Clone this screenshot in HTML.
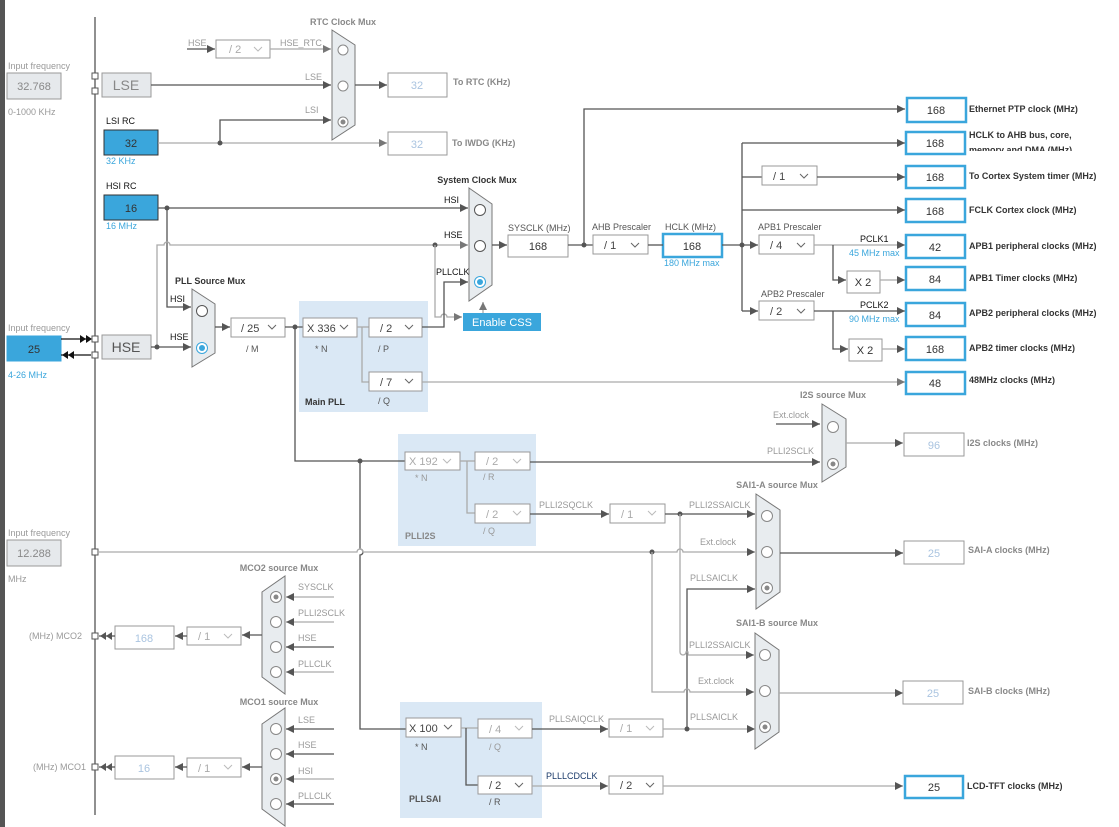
<!DOCTYPE html>
<html><head><meta charset="utf-8"><style>
html,body{margin:0;padding:0;background:#fff;width:1119px;height:827px;overflow:hidden}
svg{display:block;font-family:"Liberation Sans",Arial,sans-serif}
.d{stroke:#555;stroke-width:1.3;fill:none}
.g{stroke:#aaa;stroke-width:1.3;fill:none}
.bx{fill:#fff;stroke:#999;stroke-width:1}
.ob{fill:#fff;stroke:#3aa6dc;stroke-width:2.5}
.gb{fill:#e6e9ec;stroke:#999;stroke-width:1}
.bb{fill:#3aa6dc;stroke:#333;stroke-width:1}
.mux{fill:#e8ecef;stroke:#777;stroke-width:1}
.ch{fill:none;stroke:#666;stroke-width:1}
.chg{fill:none;stroke:#bbb;stroke-width:1}
.t{font-size:9px;fill:#555}
.tg{font-size:9px;fill:#999}
.tb{font-size:9px;fill:#333;font-weight:bold}
.tgb{font-size:9px;fill:#888;font-weight:bold}
.tk{font-size:9px;fill:#111}
.tblue{font-size:9px;fill:#3aa6dc}
.v{font-size:11px;fill:#333;text-anchor:middle}
.vg{font-size:11px;fill:#aac4e0;text-anchor:middle}
.dd{font-size:11px;fill:#444}
.ddg{font-size:11px;fill:#aaa}
.c{fill:#fff;stroke:#555;stroke-width:1}
.cg{fill:#fff;stroke:#888;stroke-width:1}
</style></head><body>
<svg width="1119" height="827" viewBox="0 0 1119 827">
<defs>
<marker id="a" markerWidth="8" markerHeight="8" refX="8" refY="4" orient="auto" markerUnits="userSpaceOnUse"><path d="M0,0 L8,4 L0,8z" fill="#555"/></marker>
<marker id="ag" markerWidth="8" markerHeight="8" refX="8" refY="4" orient="auto" markerUnits="userSpaceOnUse"><path d="M0,0 L8,4 L0,8z" fill="#777"/></marker>
</defs>
<rect x="0" y="0" width="5" height="827" fill="#555"/>
<line x1="95" y1="17" x2="95" y2="815" class="d"/>

<!-- PLL areas -->
<rect x="299" y="301" width="129" height="111" fill="#dae8f5"/>
<rect x="398" y="434" width="138" height="112" fill="#dae8f5"/>
<rect x="400" y="702" width="142" height="116" fill="#dae8f5"/>

<!-- LSE / RTC -->
<text x="8" y="69" class="tg">Input frequency</text>
<rect x="7" y="73" width="54" height="26" class="gb"/><text x="34" y="90" class="v" fill="#888" style="fill:#888">32.768</text>
<text x="8" y="115" class="tg">0-1000 KHz</text>
<rect x="102" y="73" width="49" height="24" class="gb"/><text x="126" y="90" font-size="14" fill="#888" text-anchor="middle">LSE</text>
<rect x="92" y="73" width="6" height="6" fill="#fff" stroke="#555"/><rect x="92" y="88" width="6" height="6" fill="#fff" stroke="#555"/>
<line x1="151" y1="85" x2="331" y2="85" class="d" marker-end="url(#a)"/>
<text x="305" y="80" class="tg">LSE</text>
<text x="188" y="46" class="tg">HSE</text>
<line x1="187" y1="49" x2="215" y2="49" class="d" marker-end="url(#a)"/>
<rect x="216" y="40" width="54" height="18" class="bx"/><text x="229" y="53" class="ddg">/ 2</text><polyline points="254,47 258,51 262,47" class="chg"/>
<text x="280" y="46" class="tg">HSE_RTC</text>
<line x1="270" y1="49" x2="331" y2="49" class="g" marker-end="url(#ag)"/>
<polygon points="332,30 355,45 355,125 332,140" class="mux"/>
<circle cx="343" cy="50" r="5" class="cg"/><circle cx="343" cy="86" r="5" class="cg"/><circle cx="343" cy="122" r="5" class="cg"/><circle cx="343" cy="122" r="2.5" fill="#888"/>
<text x="343" y="25" class="tgb" text-anchor="middle">RTC Clock Mux</text>
<line x1="355" y1="85" x2="387" y2="85" class="d" marker-end="url(#a)"/>
<rect x="388" y="73" width="59" height="24" class="bx"/><text x="417" y="89" class="vg">32</text>
<text x="453" y="85" class="tgb">To RTC (KHz)</text>
<text x="106" y="124" class="tk">LSI RC</text>
<rect x="104" y="130" width="54" height="25" class="bb"/><text x="131" y="147" class="v">32</text>
<text x="106" y="164" class="tblue">32 KHz</text>
<line x1="158" y1="143" x2="387" y2="143" class="g" marker-end="url(#ag)"/>
<circle cx="220" cy="143" r="2.5" fill="#555"/>
<polyline points="220,143 220,120 331,120" class="d" marker-end="url(#a)"/>
<text x="305" y="113" class="tg">LSI</text>
<rect x="388" y="132" width="59" height="23" class="bx"/><text x="417" y="148" class="vg">32</text>
<text x="452" y="146" class="tgb">To IWDG (KHz)</text>

<!-- HSI / HSE -->
<text x="106" y="189" class="tk">HSI RC</text>
<rect x="104" y="195" width="54" height="25" class="bb"/><text x="131" y="212" class="v">16</text>
<text x="106" y="229" class="tblue">16 MHz</text>
<line x1="158" y1="208" x2="468" y2="208" class="d" marker-end="url(#a)"/>
<circle cx="167" cy="208" r="2.5" fill="#555"/>
<text x="444" y="203" class="tk">HSI</text>
<polyline points="167,208 167,307 191,307" class="d" marker-end="url(#a)"/>
<text x="170" y="302" class="tk">HSI</text>
<path d="M157,347 L157,245 L164,245 A3,3 0 0 1 170,245 L468,245" class="g" marker-end="url(#ag)"/>
<circle cx="435" cy="245" r="2.5" fill="#555"/>
<text x="444" y="238" class="tk">HSE</text>
<path d="M435,245 L435,317 L441,317 A3,3 0 0 1 447,317 L462,317" class="g" marker-end="url(#ag)"/>

<text x="8" y="331" class="tg">Input frequency</text>
<rect x="7" y="336" width="54" height="25" fill="#3aa6dc" stroke="#3aa6dc"/><text x="34" y="353" class="v">25</text>
<text x="8" y="378" class="tblue">4-26 MHz</text>
<line x1="61" y1="339" x2="91" y2="339" stroke="#111" stroke-width="1.3"/>
<path d="M80,335 L86,339 L80,343z M86,335 L92,339 L86,343z" fill="#111"/>
<line x1="61" y1="355" x2="91" y2="355" stroke="#111" stroke-width="1.3"/>
<path d="M68,351 L62,355 L68,359z M74,351 L68,355 L74,359z" fill="#111"/>
<rect x="92" y="336" width="6" height="6" fill="#fff" stroke="#555"/><rect x="92" y="352" width="6" height="6" fill="#fff" stroke="#555"/>
<rect x="102" y="335" width="49" height="24" class="gb"/><text x="126" y="352" font-size="14" fill="#555" text-anchor="middle">HSE</text>
<line x1="151" y1="347" x2="191" y2="347" class="d" marker-end="url(#a)"/>
<circle cx="157" cy="347" r="2.5" fill="#555"/>
<text x="170" y="340" class="tk">HSE</text>

<!-- PLL source mux -->
<text x="175" y="284" class="tb">PLL Source Mux</text>
<polygon points="192,289 215,304 215,353 192,367" class="mux"/>
<circle cx="202" cy="311" r="5.5" class="c"/>
<circle cx="202" cy="348" r="5.5" fill="#fff" stroke="#3aa6dc"/><circle cx="202" cy="348" r="3" fill="#3aa6dc"/>
<line x1="215" y1="327" x2="230" y2="327" class="d" marker-end="url(#a)"/>
<rect x="231" y="318" width="54" height="19" class="bx"/><text x="241" y="332" class="dd">/ 25</text><polyline points="268,325 272,329 276,325" class="ch"/>
<text x="246" y="352" class="t">/ M</text>
<line x1="285" y1="327" x2="303" y2="327" class="d"/>
<circle cx="295" cy="327" r="2.5" fill="#555"/>
<rect x="303" y="318" width="54" height="19" class="bx"/><text x="307" y="332" class="dd">X 336</text><polyline points="340,325 344,329 348,325" class="ch"/>
<text x="315" y="352" class="t">* N</text>
<polyline points="357,327 369,327" class="g"/>
<polyline points="362,327 362,382 369,382" class="g"/>
<rect x="369" y="318" width="53" height="19" class="bx"/><text x="380" y="332" class="dd">/ 2</text><polyline points="405,325 409,329 413,325" class="ch"/>
<text x="378" y="352" class="t">/ P</text>
<rect x="369" y="372" width="53" height="19" class="bx"/><text x="380" y="386" class="dd">/ 7</text><polyline points="405,379 409,383 413,379" class="ch"/>
<text x="378" y="404" class="t">/ Q</text>
<text x="305" y="405" class="tb">Main PLL</text>
<polyline points="422,327 444,327 444,282 468,282" class="d" marker-end="url(#a)"/>
<text x="436" y="275" class="tk">PLLCLK</text>
<line x1="422" y1="382" x2="905" y2="382" class="g" marker-end="url(#ag)"/>

<!-- System clock mux -->
<text x="477" y="183" class="tb" text-anchor="middle">System Clock Mux</text>
<polygon points="469,188 492,204 492,285 469,301" class="mux"/>
<circle cx="480" cy="210" r="5.5" class="c"/><circle cx="480" cy="246" r="5.5" class="c"/>
<circle cx="480" cy="282" r="5.5" fill="#fff" stroke="#3aa6dc"/><circle cx="480" cy="282" r="3" fill="#3aa6dc"/>
<rect x="463" y="313" width="78" height="18" fill="#3aa6dc"/><text x="502" y="326" font-size="11" fill="#fff" text-anchor="middle">Enable CSS</text>
<line x1="483" y1="313" x2="483" y2="302" class="g" marker-end="url(#ag)"/>
<line x1="492" y1="245" x2="507" y2="245" class="d" marker-end="url(#a)"/>
<text x="508" y="231" class="t">SYSCLK (MHz)</text>
<rect x="508" y="235" width="60" height="22" class="bx"/><text x="538" y="250" class="v">168</text>
<line x1="568" y1="245" x2="593" y2="245" class="d"/>
<circle cx="584" cy="245" r="2.5" fill="#555"/>
<polyline points="584,245 584,109 905,109" class="d" marker-end="url(#a)"/>
<text x="592" y="230" class="t">AHB Prescaler</text>
<rect x="593" y="235" width="55" height="19" class="bx"/><text x="604" y="249" class="dd">/ 1</text><polyline points="631,243 635,247 639,243" class="ch"/>
<text x="665" y="230" class="t">HCLK (MHz)</text>
<rect x="663" y="234" width="59" height="23" class="ob"/><text x="692" y="250" class="v">168</text>
<text x="664" y="266" class="tblue">180 MHz max</text>
<line x1="648" y1="245" x2="663" y2="245" class="d"/>
<line x1="722" y1="245" x2="758" y2="245" class="d" marker-end="url(#a)"/>
<circle cx="742" cy="245" r="2.5" fill="#555"/>
<line x1="742" y1="143" x2="742" y2="311" class="d"/>
<line x1="742" y1="143" x2="905" y2="143" class="d" marker-end="url(#a)"/>
<line x1="742" y1="177" x2="762" y2="177" class="d"/>
<rect x="762" y="166" width="55" height="19" class="bx"/><text x="773" y="180" class="dd">/ 1</text><polyline points="800,174 804,178 808,174" class="ch"/>
<line x1="817" y1="177" x2="905" y2="177" class="d" marker-end="url(#a)"/>
<line x1="742" y1="210" x2="905" y2="210" class="d" marker-end="url(#a)"/>
<line x1="742" y1="311" x2="758" y2="311" class="d" marker-end="url(#a)"/>
<text x="758" y="230" class="t">APB1 Prescaler</text>
<rect x="759" y="235" width="55" height="19" class="bx"/><text x="770" y="249" class="dd">/ 4</text><polyline points="797,243 801,247 805,243" class="ch"/>
<text x="761" y="297" class="t">APB2 Prescaler</text>
<rect x="759" y="301" width="55" height="19" class="bx"/><text x="770" y="315" class="dd">/ 2</text><polyline points="797,309 801,313 805,309" class="ch"/>
<line x1="814" y1="245" x2="905" y2="245" class="g" marker-end="url(#a)"/>
<text x="860" y="242" class="tk">PCLK1</text><text x="849" y="256" class="tblue">45 MHz max</text>
<polyline points="833,245 833,280 846,280" class="d" marker-end="url(#a)"/>
<rect x="847" y="271" width="33" height="22" class="bx"/><text x="863" y="286" class="v">X 2</text>
<line x1="880" y1="280" x2="905" y2="280" class="g" marker-end="url(#a)"/>
<line x1="814" y1="311" x2="905" y2="311" class="d" marker-end="url(#a)"/>
<text x="860" y="308" class="tk">PCLK2</text><text x="849" y="322" class="tblue">90 MHz max</text>
<polyline points="833,311 833,349 848,349" class="d" marker-end="url(#a)"/>
<rect x="849" y="339" width="33" height="22" class="bx"/><text x="865" y="354" class="v">X 2</text>
<line x1="882" y1="349" x2="905" y2="349" class="g" marker-end="url(#a)"/>

<!-- output boxes -->
<rect x="907" y="98" width="59" height="24" class="ob"/><text x="936" y="114" class="v">168</text>
<text x="969" y="112" class="tb">Ethernet PTP clock (MHz)</text>
<rect x="906" y="132" width="59" height="22" class="ob"/><text x="935" y="147" class="v">168</text>
<text x="969" y="138" class="tb">HCLK to AHB bus, core,</text>
<svg x="965" y="141" width="120" height="10"><text x="4" y="12" class="tb">memory and DMA (MHz)</text></svg>
<rect x="906" y="166" width="59" height="22" class="ob"/><text x="935" y="181" class="v">168</text>
<text x="969" y="179" class="tb">To Cortex System timer (MHz)</text>
<rect x="906" y="199" width="59" height="23" class="ob"/><text x="935" y="215" class="v">168</text>
<text x="969" y="213" class="tb">FCLK Cortex clock (MHz)</text>
<rect x="906" y="235" width="59" height="23" class="ob"/><text x="935" y="251" class="v">42</text>
<text x="969" y="249" class="tb">APB1 peripheral clocks (MHz)</text>
<rect x="906" y="267" width="59" height="23" class="ob"/><text x="935" y="283" class="v">84</text>
<text x="969" y="281" class="tb">APB1 Timer clocks (MHz)</text>
<rect x="906" y="303" width="59" height="23" class="ob"/><text x="935" y="319" class="v">84</text>
<text x="969" y="316" class="tb">APB2 peripheral clocks (MHz)</text>
<rect x="906" y="337" width="59" height="23" class="ob"/><text x="935" y="353" class="v">168</text>
<text x="969" y="351" class="tb">APB2 timer clocks (MHz)</text>
<rect x="906" y="372" width="59" height="22" class="ob"/><text x="935" y="387" class="v">48</text>
<text x="969" y="383" class="tb">48MHz clocks (MHz)</text>

<!-- PLLI2S -->
<path d="M295,327 L295,461 L405,461" class="d"/>
<circle cx="360" cy="461" r="2.5" fill="#555"/>
<path d="M360,461 L360,549 A3,3 0 0 1 360,555 L360,729 L406,729" class="d"/>
<rect x="405" y="452" width="55" height="18" class="bx"/><text x="409" y="465" class="ddg">X 192</text><polyline points="443,459 447,463 451,459" class="chg"/>
<text x="415" y="481" class="tg">* N</text>
<line x1="460" y1="461" x2="475" y2="461" class="g"/>
<polyline points="467,461 467,513 475,513" class="g"/>
<rect x="475" y="452" width="55" height="18" class="bx"/><text x="486" y="465" class="ddg">/ 2</text><polyline points="513,459 517,463 521,459" class="chg"/>
<text x="483" y="480" class="tg">/ R</text>
<rect x="475" y="504" width="55" height="19" class="bx"/><text x="486" y="518" class="ddg">/ 2</text><polyline points="513,511 517,515 521,511" class="chg"/>
<text x="483" y="534" class="tg">/ Q</text>
<text x="405" y="539" class="tgb">PLLI2S</text>
<line x1="530" y1="462" x2="820" y2="462" class="d" marker-end="url(#a)"/>
<text x="767" y="454" class="tg">PLLI2SCLK</text>
<line x1="530" y1="514" x2="609" y2="514" class="d" marker-end="url(#a)"/>
<text x="539" y="508" class="tg">PLLI2SQCLK</text>
<rect x="610" y="504" width="55" height="19" class="bx"/><text x="621" y="518" class="ddg">/ 1</text><polyline points="648,511 652,515 656,511" class="chg"/>
<line x1="665" y1="514" x2="755" y2="514" class="d" marker-end="url(#a)"/>
<circle cx="680" cy="514" r="2.5" fill="#555"/>
<text x="689" y="508" class="tg">PLLI2SSAICLK</text>

<!-- I2S mux -->
<text x="833" y="398" class="tgb" text-anchor="middle">I2S source Mux</text>
<polygon points="822,404 846,419 846,467 822,482" class="mux"/>
<circle cx="833" cy="427" r="5.5" class="cg"/>
<circle cx="833" cy="464" r="5.5" class="cg"/><circle cx="833" cy="464" r="2.5" fill="#888"/>
<line x1="776" y1="424" x2="820" y2="424" class="d" marker-end="url(#a)"/>
<text x="773" y="418" class="tg">Ext.clock</text>
<line x1="846" y1="443" x2="903" y2="443" class="g" marker-end="url(#a)"/>
<rect x="904" y="433" width="60" height="23" class="bx"/><text x="934" y="449" class="vg">96</text>
<text x="967" y="446" class="tgb">I2S clocks (MHz)</text>

<!-- 12.288 ext line -->
<text x="8" y="536" class="tg">Input frequency</text>
<rect x="7" y="540" width="54" height="26" class="gb"/><text x="34" y="557" class="v" style="fill:#888">12.288</text>
<text x="8" y="582" class="tg">MHz</text>
<rect x="92" y="549" width="6" height="6" fill="#fff" stroke="#555"/>
<path d="M98,552 L357,552 A3,3 0 0 1 363,552 L677,552 A3,3 0 0 1 683,552 L755,552" class="g" marker-end="url(#a)"/>
<circle cx="652" cy="552" r="2.5" fill="#555"/>
<text x="700" y="545" class="tg">Ext.clock</text>

<!-- SAI-A mux -->
<text x="777" y="488" class="tgb" text-anchor="middle">SAI1-A source Mux</text>
<polygon points="756,494 780,510 780,592 756,609" class="mux"/>
<circle cx="767" cy="516" r="5.5" class="cg"/><circle cx="767" cy="552" r="5.5" class="cg"/>
<circle cx="767" cy="588" r="5.5" class="cg"/><circle cx="767" cy="588" r="2.5" fill="#888"/>
<line x1="780" y1="553" x2="903" y2="553" class="d" marker-end="url(#a)"/>
<rect x="904" y="541" width="60" height="23" class="bx"/><text x="934" y="557" class="vg">25</text>
<text x="968" y="553" class="tgb">SAI-A clocks (MHz)</text>
<polyline points="687,729 687,589 755,589" class="d" marker-end="url(#a)"/>
<text x="690" y="581" class="tg">PLLSAICLK</text>
<path d="M680,514 L680,652 A3,3 0 0 0 686,652 L688,652 L688,655 L754,655" class="g" marker-end="url(#a)"/>
<text x="689" y="648" class="tg">PLLI2SSAICLK</text>
<path d="M652,552 L652,692 L684,692 A3,3 0 0 1 690,692 L754,692" class="g" marker-end="url(#a)"/>
<text x="698" y="684" class="tg">Ext.clock</text>

<!-- SAI-B mux -->
<text x="777" y="626" class="tgb" text-anchor="middle">SAI1-B source Mux</text>
<polygon points="755,633 779,650 779,732 755,749" class="mux"/>
<circle cx="765" cy="655" r="5.5" class="cg"/><circle cx="765" cy="691" r="5.5" class="cg"/>
<circle cx="765" cy="727" r="5.5" class="cg"/><circle cx="765" cy="727" r="2.5" fill="#888"/>
<line x1="779" y1="693" x2="903" y2="693" class="g" marker-end="url(#a)"/>
<rect x="903" y="681" width="60" height="23" class="bx"/><text x="933" y="697" class="vg">25</text>
<text x="968" y="694" class="tgb">SAI-B clocks (MHz)</text>

<!-- PLLSAI -->
<rect x="406" y="718" width="55" height="19" class="bx"/><text x="409" y="732" class="dd">X 100</text><polyline points="444,725 448,729 452,725" class="ch"/>
<text x="415" y="750" class="t">* N</text>
<line x1="461" y1="728" x2="478" y2="728" class="g"/>
<polyline points="466,728 466,785 478,785" class="d"/>
<rect x="478" y="719" width="54" height="19" class="bx"/><text x="489" y="733" class="ddg">/ 4</text><polyline points="515,726 519,730 523,726" class="chg"/>
<text x="489" y="750" class="tg">/ Q</text>
<rect x="478" y="776" width="54" height="18" class="bx"/><text x="489" y="789" class="dd">/ 2</text><polyline points="515,783 519,787 523,783" class="ch"/>
<text x="489" y="805" class="t">/ R</text>
<text x="409" y="802" class="tb" style="fill:#555">PLLSAI</text>
<line x1="532" y1="729" x2="608" y2="729" class="d" marker-end="url(#a)"/>
<text x="549" y="722" class="tg">PLLSAIQCLK</text>
<rect x="609" y="719" width="54" height="18" class="bx"/><text x="620" y="732" class="ddg">/ 1</text><polyline points="646,726 650,730 654,726" class="chg"/>
<line x1="663" y1="729" x2="755" y2="729" class="g" marker-end="url(#a)"/>
<circle cx="687" cy="729" r="2.5" fill="#555"/>
<text x="690" y="720" class="tg">PLLSAICLK</text>
<line x1="532" y1="786" x2="608" y2="786" class="g" marker-end="url(#a)"/>
<text x="546" y="779" class="tk" style="fill:#1a3a6a">PLLLCDCLK</text>
<rect x="609" y="776" width="54" height="18" class="bx"/><text x="620" y="789" class="dd">/ 2</text><polyline points="646,783 650,787 654,783" class="ch"/>
<line x1="663" y1="786" x2="903" y2="786" class="g" marker-end="url(#a)"/>
<rect x="905" y="776" width="58" height="22" class="ob"/><text x="934" y="791" class="v">25</text>
<text x="967" y="789" class="tb">LCD-TFT clocks (MHz)</text>

<!-- MCO2 -->
<text x="279" y="571" class="tgb" text-anchor="middle">MCO2 source Mux</text>
<polygon points="262,592 285,576 285,694 262,677" class="mux"/>
<circle cx="276" cy="597" r="5.5" class="cg"/><circle cx="276" cy="597" r="2.5" fill="#888"/>
<circle cx="276" cy="622" r="5.5" class="cg"/><circle cx="276" cy="647" r="5.5" class="cg"/><circle cx="276" cy="672" r="5.5" class="cg"/>
<line x1="334" y1="597" x2="286" y2="597" class="g" marker-end="url(#a)"/><text x="298" y="590" class="tg">SYSCLK</text>
<line x1="334" y1="622" x2="286" y2="622" class="g" marker-end="url(#a)"/><text x="298" y="616" class="tg">PLLI2SCLK</text>
<line x1="334" y1="647" x2="286" y2="647" class="d" marker-end="url(#a)"/><text x="298" y="641" class="tg">HSE</text>
<line x1="334" y1="672" x2="286" y2="672" class="g" marker-end="url(#a)"/><text x="298" y="667" class="tg">PLLCLK</text>
<line x1="262" y1="635" x2="242" y2="635" class="d" marker-end="url(#a)"/>
<rect x="187" y="627" width="54" height="18" class="bx"/><text x="198" y="640" class="ddg">/ 1</text><polyline points="224,634 228,638 232,634" class="chg"/>
<line x1="187" y1="636" x2="175" y2="636" class="d" marker-end="url(#a)"/>
<rect x="115" y="626" width="59" height="23" class="bx"/><text x="144" y="642" class="vg">168</text>
<line x1="115" y1="636" x2="99" y2="636" class="d"/>
<path d="M106,632 L100,636 L106,640z M112,632 L106,636 L112,640z" fill="#555"/>
<rect x="92" y="633" width="6" height="6" fill="#fff" stroke="#555"/>
<text x="29" y="639" class="tg">(MHz) MCO2</text>

<!-- MCO1 -->
<text x="279" y="705" class="tgb" text-anchor="middle">MCO1 source Mux</text>
<polygon points="262,724 285,708 285,826 262,809" class="mux"/>
<circle cx="276" cy="729" r="5.5" class="cg"/><circle cx="276" cy="754" r="5.5" class="cg"/>
<circle cx="276" cy="779" r="5.5" class="cg"/><circle cx="276" cy="779" r="2.5" fill="#888"/>
<circle cx="276" cy="804" r="5.5" class="cg"/>
<line x1="334" y1="729" x2="286" y2="729" class="d" marker-end="url(#a)"/><text x="298" y="723" class="tg">LSE</text>
<line x1="334" y1="754" x2="286" y2="754" class="d" marker-end="url(#a)"/><text x="298" y="748" class="tg">HSE</text>
<line x1="334" y1="779" x2="286" y2="779" class="g" marker-end="url(#a)"/><text x="298" y="774" class="tg">HSI</text>
<line x1="334" y1="804" x2="286" y2="804" class="d" marker-end="url(#a)"/><text x="298" y="799" class="tg">PLLCLK</text>
<line x1="262" y1="767" x2="242" y2="767" class="d" marker-end="url(#a)"/>
<rect x="187" y="758" width="54" height="19" class="bx"/><text x="198" y="772" class="ddg">/ 1</text><polyline points="224,765 228,769 232,765" class="chg"/>
<line x1="187" y1="767" x2="175" y2="767" class="d" marker-end="url(#a)"/>
<rect x="115" y="756" width="59" height="23" class="bx"/><text x="144" y="772" class="vg">16</text>
<line x1="115" y1="767" x2="99" y2="767" class="d"/>
<path d="M106,763 L100,767 L106,771z M112,763 L106,767 L112,771z" fill="#555"/>
<rect x="92" y="764" width="6" height="6" fill="#fff" stroke="#555"/>
<text x="33" y="770" class="tg">(MHz) MCO1</text>
</svg>
</body></html>
